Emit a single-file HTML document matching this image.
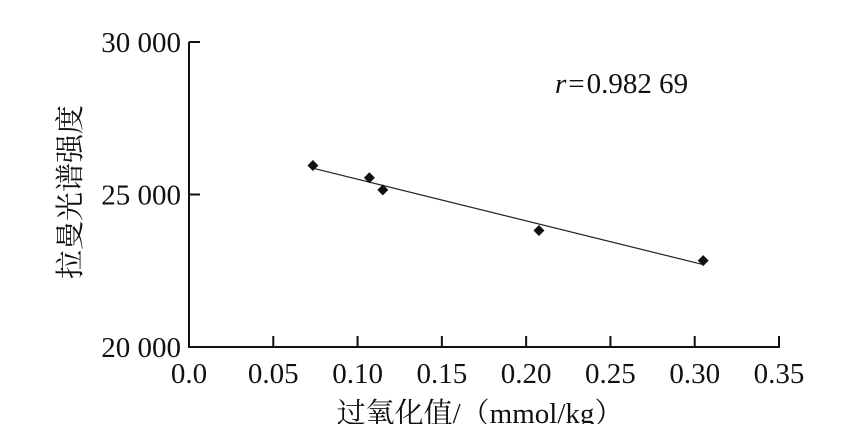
<!DOCTYPE html>
<html><head><meta charset="utf-8"><style>
body{margin:0;background:#fff;width:865px;height:424px;overflow:hidden}
text{font-family:"Liberation Serif","Noto Serif CJK SC",serif;fill:#111}
</style></head><body>
<svg width="865" height="424">
<g id="g"></g>
</svg>
<script>
const xVals=[0.0735,0.107,0.115,0.2076,0.305];
const yVals=[25950,25550,25150,23820,22830];
const xTicks=[0,0.05,0.10,0.15,0.20,0.25,0.30,0.35];
const xTickLabels=["0.0","0.05","0.10","0.15","0.20","0.25","0.30","0.35"];
const yTicks=[20000,25000,30000];
const yTickLabels=["20 000","25 000","30 000"];
const X0=189,X1=779,Y0=347,Y1=42;
const sx=v=>X0+(v-0)/(0.35)*(X1-X0);
const sy=v=>Y0-(v-20000)/10000*(Y0-Y1);
const g=document.getElementById('g');
const NS='http://www.w3.org/2000/svg';
function mk(t,a,txt){const e=document.createElementNS(NS,t);for(const k in a)e.setAttribute(k,a[k]);if(txt!=null)e.textContent=txt;g.appendChild(e);return e;}
let e=mk('line',{x1:X0,y1:Y1,x2:X0,y2:Y0+1,stroke:'#111','stroke-width':2});


e=mk('line',{x1:X0-1,y1:Y0,x2:X1+1,y2:Y0,stroke:'#111','stroke-width':2});


xTicks.forEach((v,i)=>{
 if(i>0){const t=mk('line',{x1:sx(v),y1:Y0,x2:sx(v),y2:Y0-11,stroke:'#111','stroke-width':2});
 
 }
 const l=mk('text',{x:sx(v),y:Y0+36,'text-anchor':'middle','font-size':29},xTickLabels[i]);
 
 
});
yTicks.forEach((v,i)=>{
 const t=mk('line',{x1:X0,y1:sy(v),x2:X0+11,y2:sy(v),stroke:'#111','stroke-width':2});
 
 
 const l=mk('text',{x:X0-8,y:sy(v)+10,'text-anchor':'end','font-size':29},yTickLabels[i]);
 
 
});
const n=xVals.length,mx=xVals.reduce((a,b)=>a+b)/n,my=yVals.reduce((a,b)=>a+b)/n;
let sxy=0,sxx=0;for(let i=0;i<n;i++){sxy+=(xVals[i]-mx)*(yVals[i]-my);sxx+=(xVals[i]-mx)**2;}
const b=sxy/sxx,a=my-b*mx;
const xa=Math.min(...xVals),xb=Math.max(...xVals);
e=mk('line',{x1:sx(xa),y1:sy(a+b*xa),x2:sx(xb),y2:sy(a+b*xb),stroke:'#222','stroke-width':1.2});


xVals.forEach((v,i)=>{
 const cx=sx(v),cy=sy(yVals[i]),r=5.5;
 const p=mk('polygon',{points:`${cx},${cy-r} ${cx+r},${cy} ${cx},${cy+r} ${cx-r},${cy}`,fill:'#111'});
 
 
});
e=mk('text',{x:555,y:93,'font-size':29});


e.innerHTML='<tspan font-style="italic">r</tspan><tspan dx="2">=</tspan><tspan dx="2">0.982 69</tspan>';
e=mk('text',{x:480,y:423,'text-anchor':'middle','font-size':29},'过氧化值/（mmol/kg）');


e=mk('text',{x:0,y:0,'text-anchor':'middle','font-size':29,transform:'translate(80,192) rotate(-90)'},'拉曼光谱强度');


</script>
</body></html>
